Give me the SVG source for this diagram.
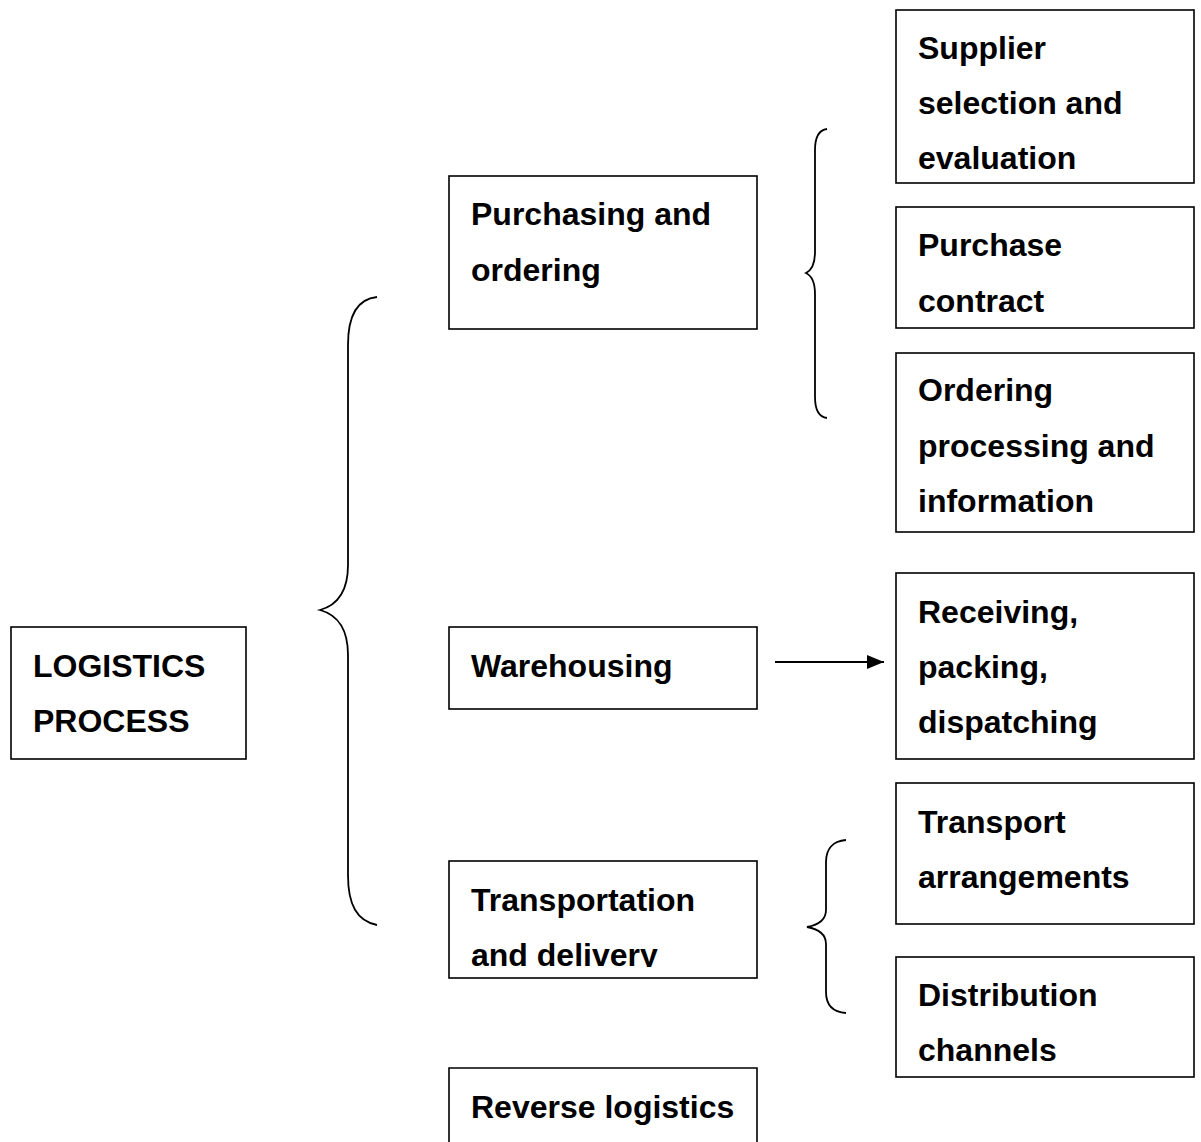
<svg xmlns="http://www.w3.org/2000/svg" width="1201" height="1142" viewBox="0 0 1201 1142">
<style>
.box{fill:#fff;stroke:#000;stroke-width:1.6}
.t{font-family:"Liberation Sans",Arial,sans-serif;font-weight:bold;font-size:32px;fill:#000}
.br{fill:none;stroke:#000;stroke-width:1.8}
</style>
<defs>
<marker id="ah" markerWidth="17" markerHeight="14" refX="17" refY="7" orient="auto" markerUnits="userSpaceOnUse" viewBox="0 0 17 14">
<path d="M0,0 L17,7 L0,14 z" fill="#000"/>
</marker>
<clipPath id="clipT"><rect x="449" y="861" width="308" height="106"/></clipPath>
</defs>
<rect width="1201" height="1142" fill="#fff"/>
<g id="connectors">
<path class="br" d="M377,297 C357,299 348,315 348,345 L348,565 C348,590 338,605 320,610 C338,615 348,630 348,655 L348,875 C348,905 357,921 377,925"/>
<path class="br" d="M827,129 C819,130 815,137 815,150 L815,252 C815,264 812,270 806,273 C812,276 815,282 815,294 L815,397 C815,410 819,417 827,418"/>
<path class="br" d="M846,840 C832,841 826,850 826,862 L826,910 C826,920 818,925 807,927 C818,929 826,934 826,944 L826,992 C826,1004 832,1012 846,1013"/>
<line x1="775" y1="662" x2="884" y2="662" stroke="#000" stroke-width="2" marker-end="url(#ah)"/>
</g>
<g id="logistics">
<rect class="box" x="11" y="627" width="235" height="132"/>
<text class="t" x="33" y="677">LOGISTICS</text>
<text class="t" x="33" y="732">PROCESS</text>
</g>
<g id="purchasing">
<rect class="box" x="449" y="176" width="308" height="153"/>
<text class="t" x="471" y="225">Purchasing and</text>
<text class="t" x="471" y="281">ordering</text>
</g>
<g id="warehousing">
<rect class="box" x="449" y="627" width="308" height="82"/>
<text class="t" x="471" y="677">Warehousing</text>
</g>
<g id="transportation">
<rect class="box" x="449" y="861" width="308" height="117"/>
<g clip-path="url(#clipT)">
<text class="t" x="471" y="911">Transportation</text>
<text class="t" x="471" y="966">and delivery</text>
</g>
</g>
<g id="reverse">
<path class="box" d="M449,1142 L449,1068 L757,1068 L757,1142"/>
<text class="t" x="471" y="1118">Reverse logistics</text>
</g>
<g id="supplier">
<rect class="box" x="896" y="10" width="298" height="173"/>
<text class="t" x="918" y="59">Supplier</text>
<text class="t" x="918" y="114">selection and</text>
<text class="t" x="918" y="169">evaluation</text>
</g>
<g id="contract">
<rect class="box" x="896" y="207" width="298" height="121"/>
<text class="t" x="918" y="256">Purchase</text>
<text class="t" x="918" y="312">contract</text>
</g>
<g id="ordering">
<rect class="box" x="896" y="353" width="298" height="179"/>
<text class="t" x="918" y="401">Ordering</text>
<text class="t" x="918" y="457">processing and</text>
<text class="t" x="918" y="512">information</text>
</g>
<g id="receiving">
<rect class="box" x="896" y="573" width="298" height="186"/>
<text class="t" x="918" y="623">Receiving,</text>
<text class="t" x="918" y="678">packing,</text>
<text class="t" x="918" y="733">dispatching</text>
</g>
<g id="transport">
<rect class="box" x="896" y="783" width="298" height="141"/>
<text class="t" x="918" y="833">Transport</text>
<text class="t" x="918" y="888">arrangements</text>
</g>
<g id="distribution">
<rect class="box" x="896" y="957" width="298" height="120"/>
<text class="t" x="918" y="1006">Distribution</text>
<text class="t" x="918" y="1061">channels</text>
</g>
</svg>
